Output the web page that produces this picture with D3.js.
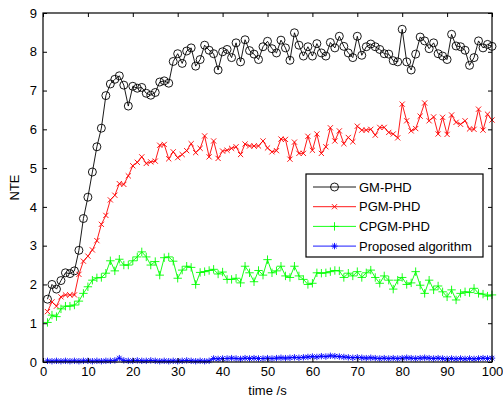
<!DOCTYPE html>
<html>
<head>
<meta charset="utf-8">
<script src="https://cdn.jsdelivr.net/npm/d3@7"></script>
<style>
  html, body { margin: 0; padding: 0; background: #fff; }
  svg { display: block; font-family: Arial, "Liberation Sans", sans-serif; }
</style>
</head>
<body>
<svg id="chart" width="503" height="398"></svg>
<script>
// NTE over time for four multi-target filters, one value per second (t = 1..100)
const xTicks = [0, 10, 20, 30, 40, 50, 60, 70, 80, 90, 100];
const yTicks = [0, 1, 2, 3, 4, 5, 6, 7, 8, 9];
const seriesNames = ["GM-PHD", "PGM-PHD", "CPGM-PHD", "Proposed algorithm"];
const seriesColors = ["#000000", "#ff0000", "#00ff00", "#0000ff"];
const seriesMarkers = ["circle", "cross", "plus", "star"];

const gmPhd = [
  1.62, 2.00, 1.88, 2.10, 2.30, 2.28, 2.35, 2.88, 3.70, 4.25,
  4.90, 5.55, 6.03, 6.87, 7.17, 7.29, 7.38, 7.14, 6.60, 7.11,
  7.06, 7.08, 6.93, 6.88, 6.95, 7.22, 7.25, 7.19, 7.75, 7.95,
  7.70, 8.02, 8.10, 7.63, 7.80, 8.17, 8.04, 7.95, 7.53, 8.00,
  8.06, 7.85, 8.23, 7.74, 8.31, 8.03, 7.94, 7.80, 8.13, 8.27,
  8.08, 7.97, 8.30, 8.10, 7.78, 8.49, 8.17, 7.89, 8.13, 7.89,
  8.21, 7.97, 7.89, 8.24, 8.10, 8.40, 8.14, 7.97, 7.85, 8.40,
  7.91, 8.13, 8.20, 8.13, 8.06, 7.95, 7.94, 7.77, 7.74, 8.58,
  7.74, 7.53, 7.94, 8.38, 8.28, 8.08, 8.23, 7.95, 7.89, 7.80,
  8.45, 8.15, 8.13, 8.04, 7.65, 7.85, 8.28, 8.10, 8.19, 8.14
];
const pgmPhd = [
  1.30, 1.55, 1.44, 1.68, 1.73, 1.73, 1.73, 2.26, 2.60, 2.73,
  2.89, 3.13, 3.55, 3.78, 4.18, 4.30, 4.60, 4.58, 4.80, 5.06,
  5.15, 5.29, 5.12, 5.16, 5.18, 5.59, 5.61, 5.24, 5.42, 5.27,
  5.35, 5.45, 5.63, 5.40, 5.51, 5.83, 5.29, 5.70, 5.25, 5.44,
  5.46, 5.51, 5.55, 5.35, 5.62, 5.57, 5.57, 5.57, 5.70, 5.52,
  5.42, 5.45, 5.75, 5.74, 5.23, 5.67, 5.38, 5.38, 5.82, 5.46,
  5.88, 5.38, 5.55, 6.04, 5.70, 5.96, 5.63, 5.79, 5.68, 6.08,
  5.98, 5.98, 6.00, 5.85, 6.05, 6.05, 5.92, 5.88, 5.78, 6.65,
  6.22, 5.96, 6.02, 6.34, 6.68, 6.22, 6.32, 5.88, 6.31, 5.87,
  6.37, 6.18, 6.13, 6.22, 6.01, 6.00, 6.52, 5.98, 6.39, 6.24
];
const cpgmPhd = [
  1.02, 1.21, 1.17, 1.37, 1.44, 1.44, 1.47, 1.57, 1.77, 1.94,
  2.11, 2.17, 2.18, 2.29, 2.61, 2.35, 2.65, 2.50, 2.50, 2.61,
  2.71, 2.84, 2.71, 2.50, 2.59, 2.24, 2.69, 2.71, 2.60, 2.16,
  2.37, 2.47, 2.44, 2.00, 2.31, 2.33, 2.36, 2.39, 2.27, 2.32,
  2.13, 2.13, 2.16, 2.04, 2.47, 2.30, 2.07, 2.36, 2.24, 2.64,
  2.30, 2.35, 2.47, 2.22, 2.18, 2.47, 2.22, 2.13, 2.00, 2.03,
  2.30, 2.29, 2.30, 2.33, 2.36, 2.35, 2.18, 2.29, 2.22, 2.33,
  2.18, 2.30, 2.37, 2.18, 2.03, 2.22, 2.11, 1.88, 2.11, 2.18,
  2.00, 2.04, 2.33, 1.98, 1.77, 2.11, 1.86, 1.96, 1.81, 1.68,
  1.86, 1.60, 1.77, 1.81, 1.79, 1.90, 1.77, 1.75, 1.70, 1.73
];
const proposed = [
  0.03, 0.02, 0.03, 0.02, 0.03, 0.02, 0.03, 0.02, 0.03, 0.03,
  0.02, 0.03, 0.02, 0.03, 0.03, 0.04, 0.10, 0.04, 0.03, 0.03,
  0.04, 0.03, 0.03, 0.04, 0.03, 0.02, 0.03, 0.02, 0.03, 0.02,
  0.03, 0.04, 0.03, 0.02, 0.03, 0.02, 0.03, 0.09, 0.08, 0.09,
  0.09, 0.10, 0.09, 0.08, 0.10, 0.09, 0.10, 0.09, 0.09, 0.10,
  0.09, 0.10, 0.11, 0.10, 0.11, 0.12, 0.11, 0.12, 0.13, 0.14,
  0.13, 0.15, 0.14, 0.16, 0.15, 0.14, 0.13, 0.12, 0.11, 0.12,
  0.11, 0.10, 0.11, 0.10, 0.09, 0.10, 0.09, 0.10, 0.09, 0.10,
  0.11, 0.10, 0.09, 0.10, 0.11, 0.10, 0.09, 0.10, 0.09, 0.08,
  0.09, 0.08, 0.09, 0.08, 0.09, 0.08, 0.09, 0.10, 0.09, 0.10
];
const allSeries = [gmPhd, pgmPhd, cpgmPhd, proposed];

const svg = d3.select("#chart");
const margin = { left: 43, right: 11, top: 13, bottom: 36 };
const W = 503, H = 398;

const x = d3.scaleLinear().domain([0, 100]).range([margin.left, W - margin.right]);
const y = d3.scaleLinear().domain([0, 9]).range([H - margin.bottom, margin.top]);

// marker symbol paths
function markerPath(kind) {
  switch (kind) {
    case "circle": return "M4,0A4,4 0 1,1 -4,0A4,4 0 1,1 4,0Z";
    case "cross": return "M-2.6,-2.6L2.6,2.6M-2.6,2.6L2.6,-2.6";
    case "plus": return "M-4.2,0L4.2,0M0,-4.2L0,4.2";
    case "star": return "M-3.2,0L3.2,0M0,-3.2L0,3.2M-2.3,-2.3L2.3,2.3M-2.3,2.3L2.3,-2.3";
  }
}

// data lines and markers
const line = d3.line().x((d, i) => x(i + 1)).y(d => y(d));
const plot = svg.append("g");
allSeries.forEach((vals, k) => {
  plot.append("path")
    .attr("d", line(vals))
    .attr("fill", "none")
    .attr("stroke", seriesColors[k])
    .attr("stroke-width", 0.9);
  plot.append("g").selectAll("path")
    .data(vals)
    .join("path")
    .attr("transform", (d, i) => `translate(${x(i + 1)},${y(d)})`)
    .attr("d", markerPath(seriesMarkers[k]))
    .attr("fill", "none")
    .attr("stroke", seriesColors[k])
    .attr("stroke-width", 0.9);
});

// axes: inward ticks on all four sides
const fontSize = 13;
const xAxisB = d3.axisBottom(x).tickValues(xTicks).tickSizeInner(-4).tickSizeOuter(0).tickPadding(5);
const xAxisT = d3.axisTop(x).tickValues(xTicks).tickSizeInner(-4).tickSizeOuter(0).tickFormat("");
const yAxisL = d3.axisLeft(y).tickValues(yTicks).tickSizeInner(-4).tickSizeOuter(0).tickPadding(6);
const yAxisR = d3.axisRight(y).tickValues(yTicks).tickSizeInner(-4).tickSizeOuter(0).tickFormat("");

function styleAxis(g) {
  g.select(".domain").remove();
  g.selectAll("line").attr("stroke", "#000").attr("stroke-width", 1);
  g.selectAll("text").attr("fill", "#000").attr("font-size", fontSize)
    .attr("font-family", "Arial, 'Liberation Sans', sans-serif");
}
svg.append("g").attr("transform", `translate(0,${y(0)})`).call(xAxisB).call(styleAxis);
svg.append("g").attr("transform", `translate(0,${y(9)})`).call(xAxisT).call(styleAxis);
svg.append("g").attr("transform", `translate(${x(0)},0)`).call(yAxisL).call(styleAxis);
svg.append("g").attr("transform", `translate(${x(100)},0)`).call(yAxisR).call(styleAxis);

// frame
svg.append("rect")
  .attr("x", x(0)).attr("y", y(9))
  .attr("width", x(100) - x(0)).attr("height", y(0) - y(9))
  .attr("fill", "none").attr("stroke", "#000").attr("stroke-width", 1.2);

// axis titles
svg.append("text")
  .attr("x", (x(0) + x(100)) / 2).attr("y", 395)
  .attr("text-anchor", "middle").attr("font-size", fontSize).attr("fill", "#000")
  .text("time /s");
svg.append("text")
  .attr("transform", `translate(19,${(y(0) + y(9)) / 2}) rotate(-90)`)
  .attr("text-anchor", "middle").attr("font-size", fontSize).attr("fill", "#000")
  .text("NTE");

// legend
const lg = svg.append("g").attr("transform", "translate(306,174)");
lg.append("rect").attr("width", 177).attr("height", 83)
  .attr("fill", "#fff").attr("stroke", "#000").attr("stroke-width", 1.2);
seriesNames.forEach((name, k) => {
  const ry = 13 + k * 19.7;
  lg.append("line").attr("x1", 7).attr("x2", 50).attr("y1", ry).attr("y2", ry)
    .attr("stroke", seriesColors[k]).attr("stroke-width", 0.9);
  lg.append("path").attr("transform", `translate(28.5,${ry})`)
    .attr("d", markerPath(seriesMarkers[k]))
    .attr("fill", "none").attr("stroke", seriesColors[k]).attr("stroke-width", 0.9);
  lg.append("text").attr("x", 53).attr("y", ry).attr("dy", "0.35em")
    .attr("font-size", fontSize).attr("fill", "#000").text(name);
});
</script>
</body>
</html>
